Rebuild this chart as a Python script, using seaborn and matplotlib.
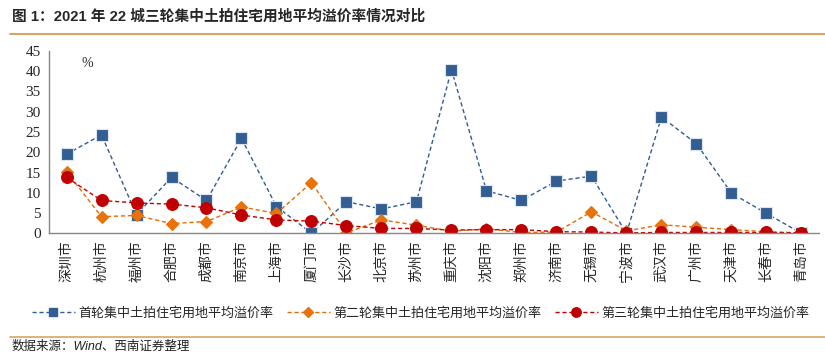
import pandas as pd
import matplotlib
matplotlib.use('Agg')
import matplotlib.pyplot as plt
import seaborn as sns
from matplotlib.lines import Line2D

cities = ['深圳市', '杭州市', '福州市', '合肥市', '成都市', '南京市', '上海市', '厦门市',
          '长沙市', '北京市', '苏州市', '重庆市', '沈阳市', '郑州市', '济南市', '无锡市',
          '宁波市', '武汉市', '广州市', '天津市', '长春市', '青岛市']
round1 = [19.5, 24.3, 4.6, 13.8, 8.1, 23.4, 6.6, 0.0, 7.8, 6.0, 7.8, 40.4,
          10.5, 8.1, 12.9, 14.1, 0.0, 28.7, 22.1, 9.9, 4.9, 0.0]
round2 = [15.2, 4.1, 4.4, 2.4, 2.9, 6.5, 4.9, 12.5, 0.1, 3.3, 2.0, 0.5,
          1.1, 0.2, 0.3, 5.3, 0.6, 2.1, 1.5, 0.9, 0.4, 0.1]
round3 = [13.8, 8.1, 7.5, 7.2, 6.3, 4.5, 3.3, 3.0, 1.9, 1.2, 1.2, 0.8,
          0.9, 0.9, 0.4, 0.3, 0.1, 0.2, 0.2, 0.2, 0.2, 0.1]
labels = ['首轮集中土拍住宅用地平均溢价率', '第二轮集中土拍住宅用地平均溢价率', '第三轮集中土拍住宅用地平均溢价率']

sns.set_style('white')
plt.rcParams['font.family'] = ['Liberation Serif', 'Noto Sans CJK SC']

df = pd.DataFrame({'city': cities, 'r1': round1, 'r2': round2, 'r3': round3})

fig = plt.figure(figsize=(8.25, 3.54), dpi=100)
ax = fig.add_axes([0.0594, 0.341, 0.9333, 0.515])

styles = [
    ('r1', '#335E94', 's', 8, '#2F5C96'),
    ('r2', '#E8720C', 'D', 6, '#E36C09'),
    ('r3', '#C00000', 'o', 8.5, '#C00000'),
]
for col, c, m, ms, lc in styles:
    sns.lineplot(data=df, x='city', y=col, ax=ax, color=lc, linestyle=(0, (3, 2)),
                 linewidth=1.0, marker=m, markersize=ms, markerfacecolor=c,
                 markeredgecolor='#DDE4EE' if m == 's' else c, markeredgewidth=0.8,
                 sort=False)

ax.set_xlim(-0.5, len(cities) - 0.5)
ax.set_ylim(0, 45)
ax.set_yticks(range(0, 46, 5))
ax.set_xlabel('')
ax.set_ylabel('')
ax.set_xticks(range(len(cities)))
ax.set_xticklabels(cities, rotation=90, fontsize=10)
ax.set_xticks([i + 0.5 for i in range(-1, len(cities))], minor=True)
ax.tick_params(axis='x', which='major', length=0, pad=5)
ax.tick_params(axis='x', which='minor', length=4, color='#888888', direction='out')
ax.tick_params(axis='y', length=4, color='#888888', labelsize=11, direction='out', pad=2)
for s in ['top', 'right']:
    ax.spines[s].set_visible(False)
for s in ['left', 'bottom']:
    ax.spines[s].set_color('#888888')
    ax.spines[s].set_linewidth(1.0)
ax.text(0.6, 42, '%', fontsize=10, ha='center', va='center', transform=ax.transData)

handles = [Line2D([], [], color=lc, linestyle=(0, (3, 2)), linewidth=1.0, marker=m,
                  markersize=ms * 0.8, markerfacecolor=c, markeredgecolor=c)
           for (col, c, m, ms, lc) in styles]
fig.legend(handles, labels, loc='center', bbox_to_anchor=(0.51, 0.115), ncol=3,
           frameon=False, fontsize=9.4, handlelength=3.3, columnspacing=1.0,
           handletextpad=0.3)

fig.text(0.014, 0.952, '图 1：2021 年 22 城三轮集中土拍住宅用地平均溢价率情况对比',
         fontsize=10.6, fontweight='bold', family=['Liberation Sans', 'Noto Sans CJK SC'],
         va='center', ha='left')
fig.add_artist(Line2D([0.012, 1.0], [0.905, 0.905], color='#D8A562', linewidth=1.5))
fig.add_artist(Line2D([0.012, 1.0], [0.048, 0.048], color='#D8A562', linewidth=1.2))
fig.text(0.014, 0.019, '数据来源：Wind、西南证券整理', fontsize=9, style='italic',
         family=['Liberation Sans', 'Noto Sans CJK SC'], va='center', ha='left', color='#222222')

fig.savefig('out.png', dpi=100)
